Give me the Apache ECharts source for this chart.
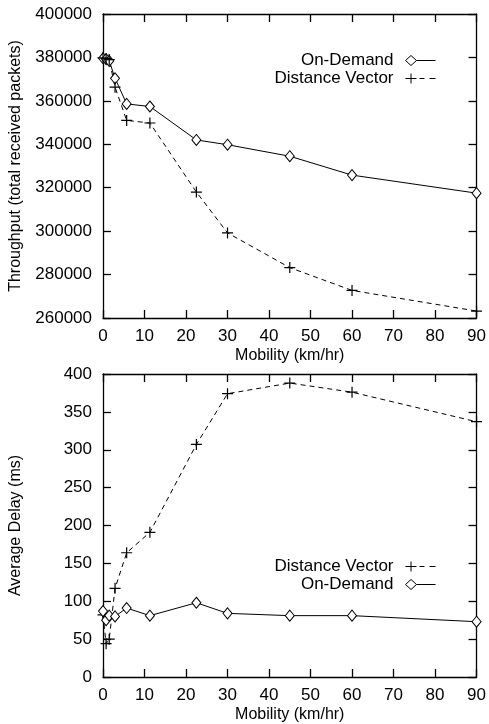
<!DOCTYPE html>
<html>
<head>
<meta charset="utf-8">
<script src="https://cdn.jsdelivr.net/npm/echarts@6/dist/echarts.min.js"></script>
<style>
  html, body { margin: 0; padding: 0; background: #fff; }
  #chart { width: 489px; height: 724px; }
</style>
</head>
<body>
<div id="chart"></div>
<script>
// Mobility values (km/hr) at which both protocols were simulated
const mobility = [0, 0.75, 1.5, 2.9, 5.7, 11.3, 22.5, 30, 45, 60, 90];

// Throughput: total received packets
const throughputOnDemand = [379600, 379200, 378400, 370400, 358600, 357400, 342000, 339800, 334500, 325800, 317500];
const throughputDistVector = [379800, 379500, 379000, 366300, 351000, 349800, 318000, 299200, 283200, 272700, 263200];

// Average delay (ms)
const delayOnDemand = [87, 75, 81, 80, 91, 81, 98, 84, 81, 81, 73];
const delayDistVector = [82, 44, 50, 117, 164, 191, 307, 374, 388, 376, 337];

const FONT = '"Liberation Sans", Arial, Helvetica, sans-serif';
const BLACK = '#000';
const PLUS = 'path://M0,5L10,5M5,0L5,10';

// legend keys: marker followed by a short line sample
const KEY_OD = 'path://M0,5L5.5,0L11,5L5.5,10ZM11,5L30,5';
const KEY_DV = 'path://M0,5L11,5M5.5,0L5.5,10M14,5L19,5M24,5L30,5';

const pair = (xs, ys) => xs.map((x, i) => [x, ys[i]]);

const axisLineStyle = { color: BLACK, width: 1.3 };

function xAxes(gridIndex) {
  const base = {
    gridIndex, type: 'value', min: 0, max: 90, interval: 10,
    splitLine: { show: false },
    axisLine: { show: true, onZero: false, lineStyle: axisLineStyle },
    axisTick: { show: true, inside: true, length: 8, lineStyle: axisLineStyle }
  };
  return [
    Object.assign({}, base, {
      position: 'bottom',
      name: 'Mobility (km/hr)', nameLocation: 'middle', nameGap: 30,
      nameTextStyle: { color: BLACK, fontFamily: FONT, fontSize: 16 },
      axisLabel: { color: BLACK, fontFamily: FONT, fontSize: 17, margin: 10 }
    }),
    Object.assign({}, base, { position: 'top', axisLabel: { show: false } })
  ];
}

function yAxes(gridIndex, min, max, interval, title, gap) {
  const base = {
    gridIndex, type: 'value', min, max, interval,
    splitLine: { show: false },
    axisLine: { show: true, onZero: false, lineStyle: axisLineStyle },
    axisTick: { show: true, inside: true, length: 8, lineStyle: axisLineStyle }
  };
  return [
    Object.assign({}, base, {
      position: 'left',
      name: title, nameLocation: 'middle', nameGap: gap, nameRotate: 90,
      nameTextStyle: { color: BLACK, fontFamily: FONT, fontSize: 16 },
      axisLabel: { color: BLACK, fontFamily: FONT, fontSize: 17, margin: 11, formatter: v => String(v) }
    }),
    Object.assign({}, base, { position: 'right', axisLabel: { show: false } })
  ];
}

const odStyle = {
  type: 'line', symbol: 'diamond', symbolSize: [9, 11],
  lineStyle: { color: BLACK, width: 1 },
  itemStyle: { color: '#fff', borderColor: BLACK, borderWidth: 1 }
};
const dvStyle = {
  type: 'line', symbol: PLUS, symbolSize: 11,
  lineStyle: { color: BLACK, width: 1, type: [5, 4] },
  itemStyle: { color: BLACK, borderColor: BLACK, borderWidth: 1.2 }
};

function legend(name, icon, top) {
  return {
    data: [{ name, icon }], orient: 'vertical', align: 'right',
    right: 53, top, itemWidth: 30, itemHeight: 10, padding: 0,
    itemStyle: { color: '#fff', borderColor: BLACK, borderWidth: 1 },
    textStyle: { color: BLACK, fontFamily: FONT, fontSize: 17, padding: [0, 7, 0, 0] },
    selectedMode: false
  };
}

const option = {
  animation: false,
  backgroundColor: '#fff',
  grid: [
    { left: 103, top: 14, width: 376, height: 304 },
    { left: 103, top: 374, width: 376, height: 304 }
  ],
  xAxis: [...xAxes(0), ...xAxes(1)],
  yAxis: [
    ...yAxes(0, 260000, 400000, 20000, 'Throughput (total received packets)', 79),
    ...yAxes(1, 0, 400, 50, 'Average Delay (ms)', 79)
  ],
  legend: [
    legend('On-Demand', KEY_OD, 52),
    legend('Distance Vector', KEY_DV, 70),
    legend('Distance Vector', KEY_DV, 558),
    legend('On-Demand', KEY_OD, 576)
  ],
  series: [
    Object.assign({}, odStyle, { name: 'On-Demand', xAxisIndex: 0, yAxisIndex: 0, data: pair(mobility, throughputOnDemand) }),
    Object.assign({}, dvStyle, { name: 'Distance Vector', xAxisIndex: 0, yAxisIndex: 0, data: pair(mobility, throughputDistVector) }),
    Object.assign({}, dvStyle, { name: 'Distance Vector', xAxisIndex: 2, yAxisIndex: 2, data: pair(mobility, delayDistVector) }),
    Object.assign({}, odStyle, { name: 'On-Demand', xAxisIndex: 2, yAxisIndex: 2, data: pair(mobility, delayOnDemand) })
  ]
};

const chart = echarts.init(document.getElementById('chart'), null, { renderer: 'canvas' });
chart.setOption(option);
</script>
</body>
</html>
